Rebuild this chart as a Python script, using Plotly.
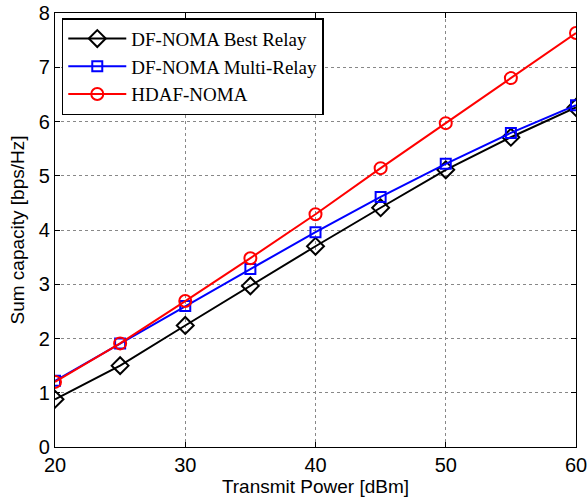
import plotly.graph_objects as go

power = [20, 25, 30, 35, 40, 45, 50, 55, 60]
df_best = [0.88, 1.50, 2.24, 2.97, 3.70, 4.41, 5.11, 5.71, 6.26]
df_multi = [1.22, 1.91, 2.60, 3.28, 3.96, 4.61, 5.22, 5.79, 6.30]
hdaf = [1.20, 1.91, 2.69, 3.48, 4.29, 5.14, 5.97, 6.80, 7.63]
names = ["DF-NOMA Best Relay", "DF-NOMA Multi-Relay", "HDAF-NOMA"]
x_ticks = [20, 30, 40, 50, 60]
y_ticks = [0, 1, 2, 3, 4, 5, 6, 7, 8]

fig = go.Figure()
fig.add_trace(go.Scatter(x=power, y=df_best, name=names[0], mode="lines+markers",
                         line=dict(color="black", width=2),
                         marker=dict(symbol="diamond-open", size=13, color="black", line=dict(width=2))))
fig.add_trace(go.Scatter(x=power, y=df_multi, name=names[1], mode="lines+markers",
                         line=dict(color="blue", width=2),
                         marker=dict(symbol="square-open", size=10, color="blue", line=dict(width=2))))
fig.add_trace(go.Scatter(x=power, y=hdaf, name=names[2], mode="lines+markers",
                         line=dict(color="red", width=2),
                         marker=dict(symbol="circle-open", size=12, color="red", line=dict(width=2))))

axis_common = dict(showline=True, linecolor="black", linewidth=1.2, mirror="ticks",
                   ticks="inside", ticklen=5, tickcolor="black",
                   showgrid=True, gridcolor="#888888", griddash="dot", gridwidth=1,
                   zeroline=False, automargin=False,
                   tickfont=dict(family="Liberation Sans, Arial", size=20, color="black"))

fig.update_xaxes(range=[20, 60], tickvals=x_ticks,
                 title=dict(text="Transmit Power [dBm]", standoff=2,
                            font=dict(family="Liberation Sans, Arial", size=19, color="black")),
                 **axis_common)
fig.update_yaxes(range=[0, 8], tickvals=y_ticks,
                 title=dict(text="Sum capacity [bps/Hz]", standoff=9,
                            font=dict(family="Liberation Sans, Arial", size=19, color="black")),
                 **axis_common)

fig.update_layout(
    width=588, height=504,
    margin=dict(l=55, r=12, t=13, b=57),
    plot_bgcolor="white", paper_bgcolor="white",
    legend=dict(x=0.013, y=0.988, xanchor="left", yanchor="top",
                bgcolor="white", bordercolor="black", borderwidth=1.5,
                font=dict(family="Liberation Serif, Times New Roman", size=19, color="black"),
                tracegroupgap=0, itemwidth=58),
)

fig.write_html("out.html")
